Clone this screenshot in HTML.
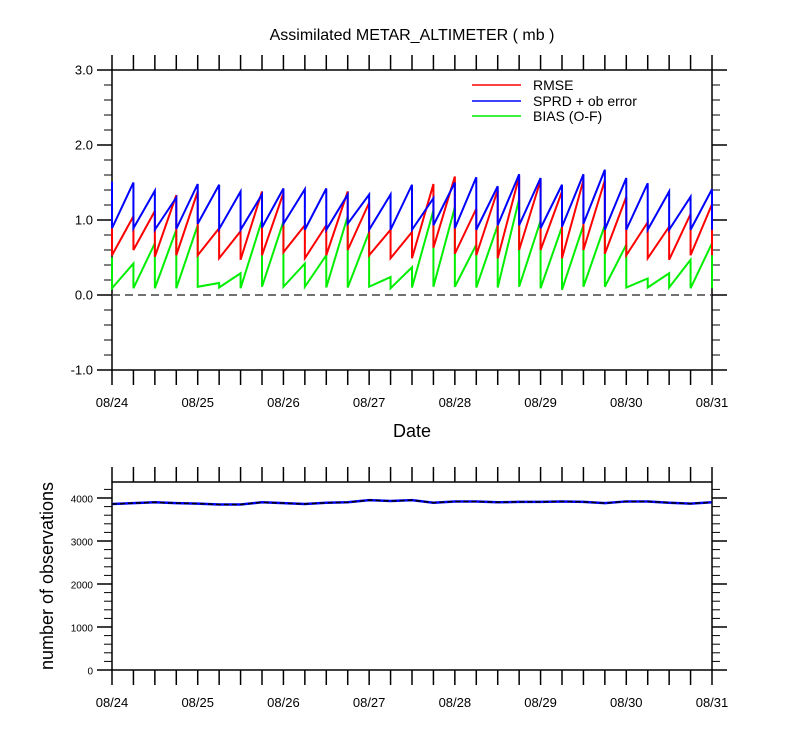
<!DOCTYPE html>
<html><head><meta charset="utf-8"><style>
body{margin:0;background:#fff;}
svg{display:block;font-family:"Liberation Sans",Arial,sans-serif;}
</style></head><body>
<svg id="chart" width="800" height="750" viewBox="0 0 800 750" xmlns="http://www.w3.org/2000/svg">
<rect width="800" height="750" fill="#fff"/>
<text x="412" y="40" font-size="16" text-anchor="middle">Assimilated METAR_ALTIMETER ( mb )</text>
<g id="topPlot"></g>
<g id="botPlot"></g>
<text x="412" y="437" font-size="18" text-anchor="middle">Date</text>
<text transform="translate(53,576) rotate(-90)" font-size="18" text-anchor="middle">number of observations</text>
<g>
<line x1="472" y1="85" x2="521" y2="85" stroke="#f00" stroke-width="1.5"/>
<text x="533" y="90" font-size="14">RMSE</text>
<line x1="472" y1="101" x2="521" y2="101" stroke="#00f" stroke-width="1.5"/>
<text x="533" y="106" font-size="14">SPRD + ob error</text>
<line x1="472" y1="116" x2="521" y2="116" stroke="#0e0" stroke-width="1.5"/>
<text x="533" y="121" font-size="14">BIAS (O-F)</text>
</g>
</svg>
<script>
const dateLabels=["08/24","08/25","08/26","08/27","08/28","08/29","08/30","08/31"];
const yTicksTop=[-1.0,0.0,1.0,2.0,3.0];
const yTicksBot=[0,1000,2000,3000,4000];
const rmsePrior=[1.29,1.05,1.12,1.33,1.38,0.89,0.85,1.38,1.36,0.93,0.93,1.38,1.23,0.87,0.84,1.48,1.58,1.15,1.40,1.58,1.53,1.38,1.53,1.53,1.31,0.97,0.91,1.08,1.21];
const rmsePost=[0.53,0.60,0.51,0.53,0.53,0.49,0.47,0.53,0.57,0.49,0.53,0.60,0.53,0.49,0.49,0.63,0.55,0.53,0.49,0.60,0.60,0.49,0.60,0.55,0.53,0.49,0.47,0.53,0.53];
const sprdPrior=[1.51,1.50,1.39,1.30,1.48,1.47,1.38,1.34,1.42,1.41,1.42,1.34,1.34,1.34,1.47,1.29,1.50,1.57,1.45,1.61,1.56,1.47,1.61,1.67,1.56,1.49,1.38,1.31,1.41];
const sprdPost=[0.89,0.89,0.87,0.88,0.95,0.88,0.87,0.90,0.95,0.87,0.87,0.95,0.87,0.87,0.87,0.93,0.89,0.87,0.93,0.93,0.89,0.91,0.95,0.87,0.87,0.87,0.87,0.87,0.87];
const biasPrior=[0.50,0.42,0.69,0.87,0.93,0.16,0.29,1.00,0.98,0.42,0.53,1.05,0.84,0.24,0.37,1.13,1.17,0.67,0.93,1.28,0.99,0.91,0.93,0.93,0.67,0.22,0.29,0.47,0.69];
const biasPost=[0.09,0.09,0.09,0.09,0.11,0.10,0.09,0.11,0.11,0.11,0.10,0.10,0.11,0.09,0.10,0.11,0.11,0.10,0.10,0.11,0.09,0.07,0.11,0.11,0.10,0.10,0.10,0.09,0.09];
const obsCount=[3860,3880,3900,3880,3870,3850,3850,3900,3880,3860,3890,3900,3950,3930,3950,3890,3920,3920,3900,3910,3910,3920,3910,3880,3920,3920,3890,3870,3900];

const NS="http://www.w3.org/2000/svg";
const X0=112,X1=712,NT=28;
function xs(i){return X0+(X1-X0)*i/NT;}
function yTop(v){return 295-75*v;}
function yBot(v){return 670-0.043*v;}
function mk(parent,tag,attrs){const e=document.createElementNS(NS,tag);for(const k in attrs)e.setAttribute(k,attrs[k]);parent.appendChild(e);return e;}
const gTop=document.getElementById('topPlot'),gBot=document.getElementById('botPlot');

function frame(g,yT,yB,prefix){
  const f=mk(g,'rect',{x:X0,y:yT,width:X1-X0,height:yB-yT,fill:'none',stroke:'#000','stroke-width':1.5});
  
  
  for(let i=0;i<=NT;i++){
    const x=xs(i);
    const t1=mk(g,'line',{x1:x,y1:yT,x2:x,y2:yT-15,stroke:'#000','stroke-width':1.5});
    
    
    const t2=mk(g,'line',{x1:x,y1:yB,x2:x,y2:yB+15,stroke:'#000','stroke-width':1.5});
    
    
  }
  dateLabels.forEach((d,j)=>{
    const t=mk(g,'text',{x:xs(j*4),y:yB+37,'font-size':13,'text-anchor':'middle'});
    t.textContent=d;
    
    
  });
}
function yaxis(g,ticks,yf,minorStep,lo,hi,fmt,prefix,fs){
  ticks.forEach(v=>{
    const y=yf(v);
    [[X0,X0-15],[X1,X1+15]].forEach(p=>{
      const l=mk(g,'line',{x1:p[0],y1:y,x2:p[1],y2:y,stroke:'#000','stroke-width':1.5});
      
      
    });
    const t=mk(g,'text',{x:X0-19,y:y+4.5,'font-size':fs,'text-anchor':'end'});
    t.textContent=fmt(v);
    
    
  });
  for(let v=lo;v<=hi+1e-9;v+=minorStep){
    if(ticks.some(t=>Math.abs(t-v)<1e-6))continue;
    const y=yf(v);
    [[X0,X0-8],[X1,X1+8]].forEach(p=>{
      const l=mk(g,'line',{x1:p[0],y1:y,x2:p[1],y2:y,stroke:'#000','stroke-width':1});
      
      
    });
  }
}
frame(gTop,70,370,'top');
yaxis(gTop,yTicksTop,yTop,0.2,-1,3,v=>v.toFixed(1),'top',13);
const zl=mk(gTop,'line',{x1:X0,y1:yTop(0),x2:X1,y2:yTop(0),stroke:'#444','stroke-width':1.5,'stroke-dasharray':'8 5'});



function saw(prior,post,color,name){
  let d='';
  for(let i=0;i<prior.length;i++){
    d+=(i?'L':'M')+xs(i)+','+yTop(prior[i])+'L'+xs(i)+','+yTop(post[i]);
  }
  const p=mk(gTop,'path',{d:d,fill:'none',stroke:color,'stroke-width':2});
  
  
}
saw(biasPrior,biasPost,'#0e0','bias-line');
saw(rmsePrior,rmsePost,'#f00','rmse-line');
saw(sprdPrior,sprdPost,'#00f','sprd-line');

frame(gBot,482,670,'bottom');
yaxis(gBot,yTicksBot,yBot,200,0,4200,v=>String(v),'bottom',10);
let d2='';
obsCount.forEach((v,i)=>{d2+=(i?'L':'M')+xs(i)+','+yBot(v);});
const ob=mk(gBot,'path',{d:d2,fill:'none',stroke:'#00f','stroke-width':2.5});


const ob2=mk(gBot,'path',{d:d2,fill:'none',stroke:'#000','stroke-width':1.5,'stroke-dasharray':'5 3'});


</script>
</body></html>
